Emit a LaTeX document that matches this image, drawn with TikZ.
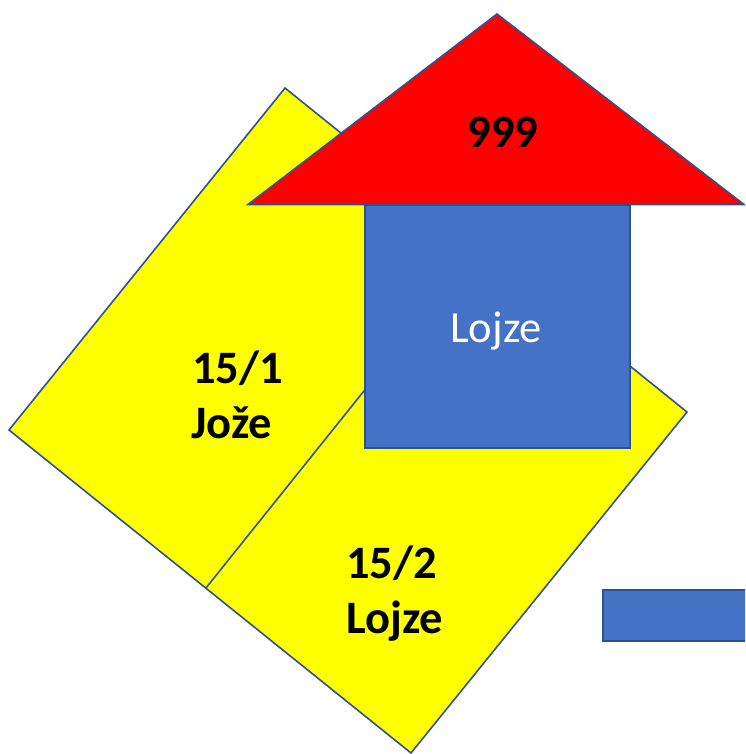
\documentclass[tikz,border=0pt]{standalone}
\usepackage{fontspec}
\setmainfont{Carlito}
\definecolor{yel}{HTML}{FFFF00}
\definecolor{roofred}{HTML}{FF0000}
\definecolor{wallblue}{HTML}{4472C4}
\definecolor{edgeblue}{HTML}{2F528F}
\begin{document}
\begin{tikzpicture}[x=1pt,y=-1pt,
  shapeline/.style={draw=edgeblue, line width=1.6pt, line join=miter},
  boldlbl/.style={font=\bfseries\fontsize{46.5}{56}\selectfont, inner sep=0pt, text=black},
  wall/.style={shapeline, fill=wallblue}]
\useasboundingbox (0,0) rectangle (745,754);
\clip (0,0) rectangle (745,754);
% yellow parcel
\coordinate (ytop) at (285,88);
\coordinate (yleft) at (9,430);
\coordinate (ybot) at (411,753);
\coordinate (yright) at (687,412);
\coordinate (dlow) at (205.7,588.3);
\coordinate (dhigh) at (481,245);
\filldraw[shapeline, fill=yel] (ytop) -- (yleft) -- (ybot) -- (yright) -- cycle;
\draw[shapeline] (dlow) -- (dhigh);
% roof
\coordinate (rapex) at (497,14);
\coordinate (rleft) at (248,204.5);
\coordinate (rright) at (744,204.5);
\filldraw[shapeline, fill=roofred] (rapex) -- (rleft) -- (rright) -- cycle;
% house wall
\coordinate (wtl) at (365,205);
\coordinate (wbr) at (630,448);
\filldraw[wall] (wtl) rectangle (wbr);
% small rectangle
\coordinate (stl) at (603,590);
\coordinate (sbr) at (770,641);
\filldraw[wall] (stl) rectangle (sbr);
% labels
\node[boldlbl, anchor=base] (roof) at (503,148) {999};
\node[font=\fontsize{44.5}{53}\selectfont, inner sep=0pt, text=white, anchor=base] (owner) at (496,342) {Lojze};
\node[boldlbl, anchor=base west] (p1a) at (192,383) {15/1};
\node[boldlbl, anchor=base west] (p1b) at (191,438) {Jože};
\node[boldlbl, anchor=base west] (p2a) at (346,578) {15/2};
\node[boldlbl, anchor=base west] (p2b) at (346,633) {Lojze};
\end{tikzpicture}
\end{document}
